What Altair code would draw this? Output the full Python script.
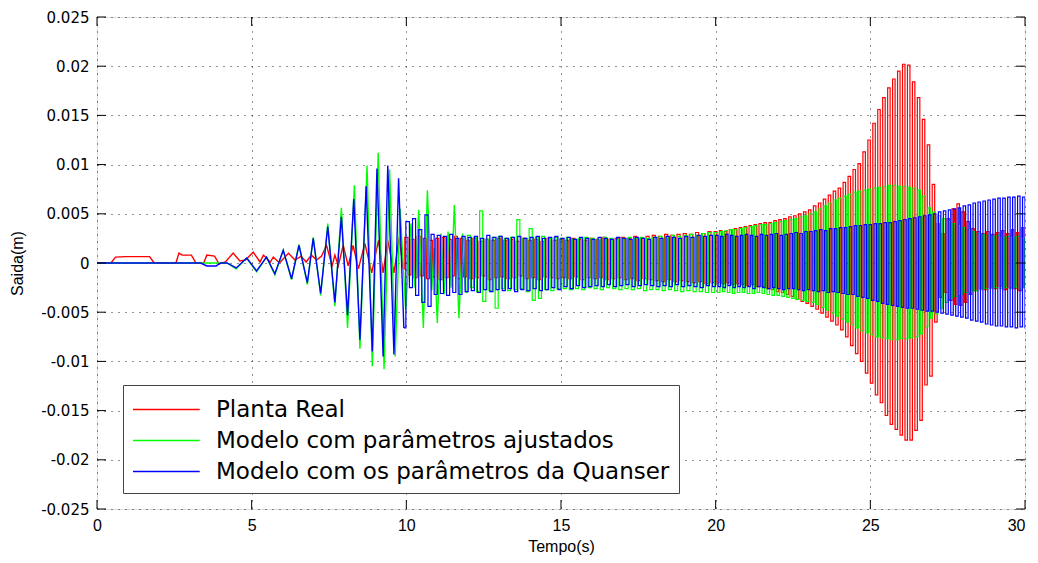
import altair as alt
import numpy as np
import pandas as pd

# ---------------- data (in millimetres) ----------------
SERIES = ["Planta Real", "Modelo com parâmetros ajustados", "Modelo com os parâmetros da Quanser"]
COLORS = ["#ff0000", "#00ff00", "#0000ff"]
X_TICKS = [0, 5, 10, 15, 20, 25, 30]
Y_TICKS = [-0.025, -0.02, -0.015, -0.01, -0.005, 0, 0.005, 0.01, 0.015, 0.02, 0.025]

# --- Planta Real (red) ---
RED_EARLY_T = [0, 0.45, 0.6, 0.9, 1.7, 1.85, 2.55, 2.65, 2.75, 3.05, 3.2, 3.45, 3.55, 3.8, 3.95,
               4.15, 4.4, 4.62, 4.8, 5.05, 5.27, 5.38, 5.6, 5.7, 5.9, 6.19, 6.4, 6.6, 6.76, 6.93,
               7.1, 7.26, 7.42, 7.6, 7.69, 7.8, 7.96, 8.12, 8.28, 8.45, 8.66, 8.88, 9.1, 9.25,
               9.4, 9.6, 9.77, 9.9]
RED_EARLY_MM = [0, 0, 0.6, 0.65, 0.65, 0, 0, 1.0, 0.8, 0.8, 0, 0, 0.8, 0.7, -0.1,
                0.1, 1.0, 0.2, 0.3, 1.1, 0.1, 0.8, 0.1, 0.6, 0.0, 1.0, 0.3, 0.7, 0.1, 0.8,
                0.3, 0.7, 1.8, -0.3, 0.8, -0.3, 1.8, -0.3, 1.8, -0.6, 2.0, -1.0, 2.3, -1.0,
                2.3, -1.0, 2.6, -0.6]
RED_A_START, RED_A_STEP = 10.0, 0.1
RED_A_MM = [2.6, -1.2, 2.4, -1.5, 2.7, -1.3, 2.5, -1.6, 2.3, -1.4,
            2.5, -1.7, 2.6, -1.5, 2.4, -1.3, 2.7, -1.6, 2.5, -1.4,
            2.3, -1.6, 2.5, -1.5, 2.2, -1.3, 2.4, -1.7, 2.3, -1.5,
            2.5, -1.4, 2.3, -1.6, 2.4, -1.5, 2.2, -1.3, 2.5, -1.6,
            2.3, -1.5, 2.4, -1.7, 2.2, -1.4, 2.5, -1.5, 2.3, -1.6,
            2.4, -1.5, 2.3, -1.6, 2.5, -1.4, 2.4, -1.7, 2.3, -1.5,
            2.5, -1.6, 2.4, -1.5, 2.6, -1.7, 2.4, -1.6, 2.5, -1.5,
            2.6, -1.7, 2.5, -1.6, 2.7, -1.8, 2.5, -1.6, 2.7, -1.7,
            2.8, -1.8, 2.7, -1.9, 2.9, -1.7, 2.8, -1.9, 2.9, -1.8,
            3.0, -1.9, 2.9, -2.0, 3.1, -1.9, 3.0, -2.1, 3.2, -2.0]
RED_B_START, RED_B_STEP = 20.0, 0.08
RED_B_MM = [3.2, -2.0, 3.3, -2.1, 3.2, -2.0, 3.4, -2.2, 3.5, -2.1,
            3.6, -2.2, 3.7, -2.3, 3.8, -2.2, 3.9, -2.4, 4.0, -2.4,
            4.1, -2.6, 4.1, -2.7, 4.3, -2.9, 4.4, -3.0, 4.5, -3.2,
            4.7, -3.4, 4.8, -3.7, 5.0, -3.9, 5.2, -4.1, 5.4, -4.4,
            5.8, -4.7, 6.1, -5.1, 6.5, -5.5, 6.9, -5.9, 7.3, -6.3,
            7.6, -6.8, 8.2, -7.5, 8.8, -8.4, 9.5, -9.2, 10.1, -10.0,
            11.3, -11.2, 12.5, -12.2, 14.2, -13.4, 15.6, -14.2, 16.8, -15.5,
            17.8, -16.4, 18.7, -16.9, 19.5, -17.5, 20.2, -18.0, 20.1, -18.0,
            18.4, -17.0, 16.8, -16.0, 14.6, -12.4, 12.0, -11.5, 8.0, -6.0,
            4.0, -3.5, 3.0, -3.0, 4.5, -3.8, 5.5, -4.2, 6.0, -4.3,
            5.2, -4.0, 4.2, -3.2, 3.5, -2.8, 3.2, -2.6, 3.0, -2.7,
            3.2, -2.5, 2.9, -2.6, 3.1, -2.4, 3.3, -2.7, 3.0, -2.5,
            3.4, -2.6, 3.1, -2.8, 3.6, -2.5]

# --- Modelo com parâmetros ajustados (green) ---
GREEN_EARLY_T = [0, 4.2, 4.5, 4.84, 5.16, 5.48, 5.75, 6.02, 6.29, 6.53, 6.8, 6.99, 7.23, 7.46,
                 7.69, 7.9, 8.1, 8.32, 8.5, 8.73, 8.9, 9.09, 9.28, 9.46, 9.64, 9.8, 9.98,
                 10.15, 10.28, 10.4, 10.55, 10.68, 10.82, 10.9, 11.0, 11.12, 11.22, 11.35,
                 11.45, 11.55, 11.7, 11.82, 11.92]
GREEN_EARLY_MM = [0, 0, -0.6, 0.5, -0.9, 0.6, -1.2, 1.3, -1.7, 1.9, -2.2, 2.6, -3.3, 4.0,
                  -4.4, 5.6, -6.6, 7.9, -8.7, 9.9, -10.5, 11.2, -10.8, 9.5, -9.5, 5.5, -4.8,
                  4.0, -2.5, 5.4, -6.6, 7.4, -2.8, 1.5, -6.1, 3.0, -3.2, 3.2,
                  -2.5, 5.9, -5.6, 3.0, -3.0]
GREEN_A_START, GREEN_A_STEP = 12.02, 0.1
GREEN_A_MM = [2.8, -2.5, 2.6, -2.9, 5.3, -3.9, 2.4, -2.8, 2.6, -4.6,
              2.7, -2.6, 2.5, -2.8, 2.6, -2.7, 4.4, -2.6, 2.5, -2.9,
              3.5, -3.8, 2.6, -3.6, 2.7, -2.7, 2.5, -2.8, 2.6, -2.6,
              2.5, -2.6, 2.6, -2.7, 2.4, -2.6, 2.5, -2.7, 2.6, -2.5,
              2.5, -2.6, 2.4, -2.7, 2.6, -2.5, 2.5, -2.6, 2.4, -2.7,
              2.5, -2.6, 2.6, -2.7, 2.5, -2.6, 2.6, -2.8, 2.5, -2.7,
              2.6, -2.7, 2.7, -2.8, 2.6, -2.7, 2.8, -2.8, 2.7, -2.9,
              2.8, -2.8, 2.9, -2.9, 2.8, -2.9, 3.0, -3.0, 3.1, -3.0]
GREEN_B_START, GREEN_B_STEP = 20.02, 0.08
GREEN_B_MM = [3.1, -3.0, 3.2, -2.9, 3.3, -3.0, 3.4, -3.1, 3.4, -3.0,
              3.5, -3.0, 3.6, -3.1, 3.7, -3.1, 3.8, -3.0, 3.9, -3.1,
              3.9, -3.2, 4.0, -3.3, 4.1, -3.3, 4.2, -3.4, 4.3, -3.5,
              4.4, -3.6, 4.5, -3.7, 4.7, -3.8, 4.8, -3.9, 5.0, -4.0,
              5.2, -4.2, 5.5, -4.5, 5.8, -4.8, 6.1, -5.1, 6.4, -5.4,
              6.6, -5.7, 6.8, -6.0, 7.0, -6.3, 7.2, -6.6, 7.3, -6.9,
              7.4, -7.1, 7.5, -7.3, 7.6, -7.5, 7.7, -7.6, 7.8, -7.7,
              7.9, -7.8, 7.9, -7.8, 7.8, -7.7, 7.8, -7.7, 7.7, -7.6,
              7.6, -7.5, 7.4, -7.2, 6.8, -6.5, 5.6, -5.6, 5.2, -5.2,
              4.8, -4.6, 4.5, -4.0, 4.2, -3.6, 4.0, -3.4, 3.8, -3.2,
              3.6, -3.0, 3.4, -2.9, 3.2, -2.8, 3.0, -2.7, 2.9, -2.6,
              2.8, -2.6, 2.7, -2.5, 2.8, -2.6, 2.6, -2.5, 2.7, -2.6,
              2.6, -2.5, 2.7, -2.6, 2.5, -2.5]

# --- Modelo com os parâmetros da Quanser (blue) ---
BLUE_EARLY_T = [0, 3.35, 3.55, 3.85, 4.0, 4.2, 4.5, 4.84, 5.16, 5.48, 5.75, 6.02, 6.29, 6.53,
                6.8, 6.99, 7.23, 7.46, 7.69, 7.9, 8.1, 8.3, 8.5, 8.7, 8.9, 9.05, 9.25, 9.4,
                9.6, 9.75, 9.92]
BLUE_EARLY_MM = [0, 0, -0.3, -0.3, 0, 0, -0.5, 0.5, -0.8, 0.6, -1.1, 1.3, -1.6, 1.8,
                 -2.0, 2.5, -3.1, 3.7, -4.0, 4.7, -5.3, 6.5, -7.8, 7.8, -9.0, 9.6, -9.5, 9.9,
                 -9.3, 8.6, -6.6]
BLUE_A_START, BLUE_A_STEP = 10.05, 0.1
BLUE_A_MM = [4.2, -2.5, 4.5, -3.3, 3.4, -4.0, 4.9, -4.4, 2.9, -3.2,
             2.8, -3.1, 2.7, -3.3, 2.9, -3.0, 2.5, -3.2, 2.7, -2.9,
             2.6, -2.8, 2.7, -3.0, 2.5, -2.7, 2.8, -2.9, 2.6, -2.7,
             2.7, -2.8, 2.5, -2.6, 2.6, -2.9, 2.7, -2.7, 2.5, -2.8,
             2.6, -2.6, 2.7, -2.8, 2.5, -2.7, 2.6, -2.5, 2.7, -2.7,
             2.5, -2.4, 2.6, -2.6, 2.4, -2.3, 2.6, -2.5, 2.5, -2.4,
             2.4, -2.3, 2.6, -2.4, 2.5, -2.2, 2.4, -2.4, 2.6, -2.3,
             2.5, -2.2, 2.4, -2.4, 2.6, -2.3, 2.5, -2.2, 2.4, -2.3,
             2.6, -2.4, 2.5, -2.3, 2.7, -2.4, 2.6, -2.2, 2.5, -2.4,
             2.7, -2.3, 2.6, -2.4, 2.8, -2.5, 2.7, -2.3, 2.8, -2.4]
BLUE_B_START, BLUE_B_STEP = 20.04, 0.08
BLUE_B_MM = [2.8, -2.4, 2.7, -2.5, 2.9, -2.3, 2.8, -2.5, 2.7, -2.4,
             2.8, -2.5, 2.9, -2.4, 2.8, -2.6, 2.7, -2.4, 2.9, -2.5,
             2.8, -2.6, 2.9, -2.5, 3.0, -2.6, 2.8, -2.7, 2.9, -2.6,
             3.0, -2.6, 3.1, -2.7, 3.0, -2.8, 3.2, -2.7, 3.2, -2.8,
             3.3, -2.9, 3.4, -2.8, 3.3, -3.0, 3.5, -2.9, 3.5, -3.0,
             3.6, -3.1, 3.6, -3.2, 3.7, -3.2, 3.8, -3.4, 3.8, -3.5,
             3.9, -3.6, 3.9, -3.8, 4.0, -3.9, 4.0, -4.1, 4.1, -4.2,
             4.1, -4.3, 4.2, -4.4, 4.3, -4.5, 4.4, -4.6, 4.5, -4.6,
             4.6, -4.7, 4.7, -4.8, 4.8, -4.9, 4.9, -4.9, 5.0, -5.0,
             5.2, -5.1, 5.3, -5.2, 5.4, -5.3, 5.5, -5.4, 5.6, -5.5,
             5.8, -5.6, 5.9, -5.8, 6.1, -5.9, 6.2, -6.0, 6.3, -6.2,
             6.4, -6.3, 6.5, -6.4, 6.6, -6.4, 6.6, -6.5, 6.7, -6.5,
             6.7, -6.6, 6.8, -6.5, 6.7, -6.6]


def rows(name, early_t, early_mm, sections):
    # slow start of the record: drawn as a plain polyline
    out = [(name, "early", t, v) for t, v in zip(early_t, early_mm)]
    # fast sampled oscillation: drawn as a held (step) signal, joined to the last early point
    out.append((name, "late", early_t[-1], early_mm[-1]))
    for start, step, mm in sections:
        out += [(name, "late", round(start + i * step, 3), v) for i, v in enumerate(mm)]
    return out


records = (
    rows(SERIES[0], RED_EARLY_T, RED_EARLY_MM,
         [(RED_A_START, RED_A_STEP, RED_A_MM), (RED_B_START, RED_B_STEP, RED_B_MM)])
    + rows(SERIES[1], GREEN_EARLY_T, GREEN_EARLY_MM,
           [(GREEN_A_START, GREEN_A_STEP, GREEN_A_MM), (GREEN_B_START, GREEN_B_STEP, GREEN_B_MM)])
    + rows(SERIES[2], BLUE_EARLY_T, BLUE_EARLY_MM,
           [(BLUE_A_START, BLUE_A_STEP, BLUE_A_MM), (BLUE_B_START, BLUE_B_STEP, BLUE_B_MM)])
)
df = pd.DataFrame(records, columns=["serie", "part", "t", "mm"])
df["y"] = df["mm"] / 1000.0

W, H = 928, 492
x_scale = alt.Scale(domain=[0, 30], nice=False, zero=False)
y_scale = alt.Scale(domain=[-0.025, 0.025], nice=False, zero=False)

x_axis = alt.Axis(values=X_TICKS, title="Tempo(s)", grid=True, gridDash=[1, 6], gridColor="#000000",
                  gridOpacity=0.85, ticks=False, domain=False, labelFont="Liberation Sans",
                  labelFontSize=16, labelColor="#000000", labelPadding=8, labelFlush=False,
                  labelAlign={"condition": {"test": "datum.value >= 30", "value": "right"},
                              "value": "center"},
                  titleFont="Liberation Sans", titleFontSize=16, titleFontWeight="normal",
                  titleColor="#000000", titleX=464, titleY=37, titleBaseline="middle")
y_axis = alt.Axis(values=Y_TICKS, title="Saida(m)", grid=True, gridDash=[1, 6], gridColor="#000000",
                  gridOpacity=0.85, ticks=False, domain=False, labelFont="DejaVu Sans",
                  labelFontSize=15, labelColor="#000000", labelPadding=8,
                  labelExpr="datum.value == 0 ? '0' : '' + round(datum.value * 1000) / 1000",
                  titleFont="Liberation Sans", titleFontSize=16, titleFontWeight="normal",
                  titleColor="#000000", titleX=-80, titleY=246, titleAngle=270,
                  titleBaseline="middle", titleAlign="center")

color = alt.Color("serie:N", scale=alt.Scale(domain=SERIES, range=COLORS),
                  legend=alt.Legend(title=None, orient="none", legendX=26, legendY=368,
                                    direction="vertical", fillColor="#ffffff", strokeColor="#444444",
                                    padding=9, labelFont="DejaVu Sans", labelFontSize=23,
                                    labelColor="#000000", labelLimit=800, labelOffset=53,
                                    symbolType="M-1,0H3.6", symbolSize=841, symbolStrokeWidth=1.6,
                                    rowPadding=3))

layers = []
for name in SERIES:
    for part, interp, sw in (("early", "linear", 1.4), ("late", "step", 1.2)):
        layers.append(
            alt.Chart(df)
            .transform_filter((alt.datum.serie == name) & (alt.datum.part == part))
            .mark_line(strokeWidth=sw, clip=True, interpolate=interp)
            .encode(x=alt.X("t:Q", scale=x_scale, axis=x_axis),
                    y=alt.Y("y:Q", scale=y_scale, axis=y_axis),
                    color=color)
        )

xt_df = pd.DataFrame({"xt": X_TICKS})
yt_df = pd.DataFrame({"yt": Y_TICKS})
tick_l = alt.Chart(yt_df).mark_rule(color="#000000").encode(
    y=alt.Y("yt:Q", scale=y_scale, axis=y_axis), x=alt.value(0), x2=alt.value(9))
tick_r = alt.Chart(yt_df).mark_rule(color="#000000").encode(
    y=alt.Y("yt:Q", scale=y_scale, axis=y_axis), x=alt.value(W - 9), x2=alt.value(W))
tick_b = alt.Chart(xt_df).mark_rule(color="#000000").encode(
    x=alt.X("xt:Q", scale=x_scale, axis=x_axis), y=alt.value(H - 9), y2=alt.value(H))
tick_t = alt.Chart(xt_df).mark_rule(color="#000000").encode(
    x=alt.X("xt:Q", scale=x_scale, axis=x_axis), y=alt.value(0), y2=alt.value(9))

chart = (
    alt.layer(*layers, tick_l, tick_r, tick_b, tick_t)
    .properties(width=W, height=H, autosize=alt.AutoSizeParams(type="none"),
                padding={"left": 89, "top": 9, "right": 5, "bottom": 46})
    .configure_view(stroke="#000000", strokeWidth=1)
    .configure(background="#ffffff")
)

chart.save("out.html", embed_options={"renderer": "svg", "actions": False})
